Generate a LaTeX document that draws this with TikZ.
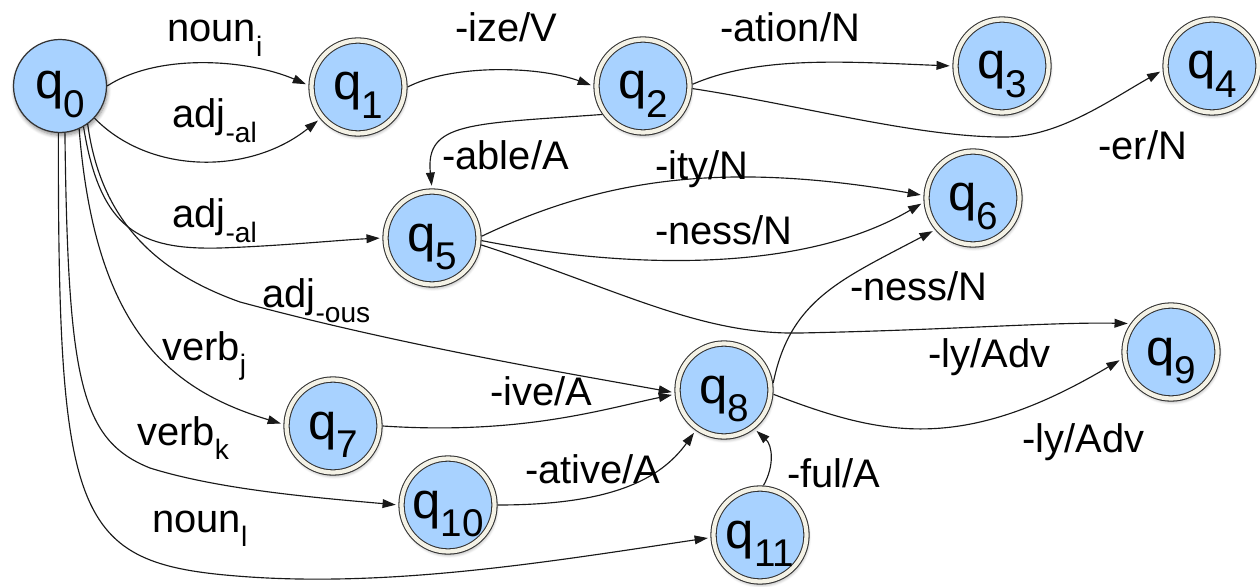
\documentclass[tikz,border=0pt]{standalone}
\usepackage{fontspec}
\setmainfont{Liberation Sans}
\usetikzlibrary{arrows.meta,shadows.blur}
\definecolor{nodeblue}{RGB}{168,210,255}
\definecolor{ringcol}{RGB}{244,242,230}
\newcommand{\qs}[1]{q\raisebox{-10.5pt}{\fontsize{22}{22}\selectfont #1}}
\newcommand{\lsub}[1]{\raisebox{-8pt}{\fontsize{16}{16}\selectfont #1}}
\begin{document}
\begin{tikzpicture}[x=0.02cm,y=-0.02cm,
  statebase/.style={circle, inner sep=0pt, fill=nodeblue, text height=14.8pt, text depth=0pt,
    font=\fontsize{29}{30}\selectfont,
    blur shadow={shadow xshift=0.6pt, shadow yshift=-1.6pt, shadow opacity=45, shadow blur steps=6}},
  initstate/.style={statebase, minimum size=1.86cm, draw=black!80, line width=0.7pt},
  accstate/.style={statebase, minimum size=1.86cm, draw=black!80, line width=0.6pt,
    double=ringcol, double distance=2.4pt, outer sep=1.8pt},
  trans/.style={draw=black!90, line width=0.65pt, -{Triangle[length=7.5pt,width=5pt]}, shorten >=1.5pt},
  elabel/.style={anchor=base west, inner sep=0pt, font=\fontsize{22.7}{24}\selectfont}]
\useasboundingbox (0,0) rectangle (1260,587);

% states
\node[initstate] (q0) at (60,86) {\qs{0}};
\node[accstate] (q1) at (358,87) {\qs{1}};
\node[accstate] (q2) at (643,86) {\qs{2}};
\node[accstate] (q3) at (1002,66) {\qs{3}};
\node[accstate] (q4) at (1212,66) {\qs{4}};
\node[accstate] (q5) at (432,238) {\qs{5}};
\node[accstate] (q6) at (973,198) {\qs{6}};
\node[accstate] (q7) at (333,426) {\qs{7}};
\node[accstate] (q8) at (724,390) {\qs{8}};
\node[accstate] (q9) at (1171,352) {\qs{9}};
\node[accstate] (q10) at (448,505) {\qs{10}};
\node[accstate] (q11) at (760,535) {\qs{11}};

% transitions
\draw[trans] (q0.0) .. controls (160,52) and (250,60) .. (q1.178);
\draw[trans] (q0.-43) .. controls (150,175) and (250,175) .. (q1.220);
\draw[trans] (q1.0) .. controls (450,65) and (535,65) .. (q2.180);
\draw[trans] (q2.2) .. controls (760,55) and (850,62) .. (q3.180);
\draw[trans] (q2.-3) .. controls (800,105) and (920,138) .. (1007,137)
   .. controls (1060,136) and (1110,100) .. (q4.185);
\draw[trans] (q2.215) .. controls (470,124) and (425,122) .. (q5.90);
\draw[trans] (q5.2) .. controls (600,180) and (720,160) .. (q6.177);
\draw[trans] (q5.-3) .. controls (620,268) and (800,275) .. (q6.185);
\draw[trans] (q0.-60) .. controls (100,230) and (140,250) .. (220,248)
   .. controls (280,246) and (340,240) .. (q5.180);
\draw[trans] (q0.-54) .. controls (100,215) and (150,270) .. (240,302)
   .. controls (400,345) and (560,372) .. (q8.183);
\draw[trans] (q0.-66) .. controls (95,330) and (170,390) .. (q7.178);
\draw[trans] (q0.-84) .. controls (68,380) and (80,440) .. (150,468)
   .. controls (220,490) and (320,498) .. (q10.180);
\draw[trans] (q0.-92) .. controls (58,530) and (75,565) .. (250,577)
   .. controls (400,587) and (560,560) .. (q11.183);
\draw[trans] (q7.0) .. controls (520,435) and (600,410) .. (q8.185);
\draw[trans] (q10.0) .. controls (610,505) and (660,480) .. (q8.235);
\draw[trans] (q11.86) .. controls (775,465) and (772,445) .. (q8.-52);
\draw[trans] (q8.8) .. controls (790,300) and (840,280) .. (q6.220);
\draw[trans] (q5.-8) .. controls (620,290) and (700,335) .. (800,333)
   .. controls (950,330) and (1050,322) .. (q9.145);
\draw[trans] (q8.-5) .. controls (880,435) and (960,455) .. (q9.188);

% labels
\node[elabel] (l1) at (167,42) {noun\lsub{i}};
\node[elabel] (l2) at (172,128) {adj\lsub{-al}};
\node[elabel] (l3) at (455,42) {-ize/V};
\node[elabel] (l4) at (720,42) {-ation/N};
\node[elabel] (l5) at (1098,160) {-er/N};
\node[elabel] (l6) at (442,170) {-able/A};
\node[elabel] (l7) at (655,180) {-ity/N};
\node[elabel] (l8) at (655,245) {-ness/N};
\node[elabel] (l9) at (172,228) {adj\lsub{-al}};
\node[elabel] (l10) at (262,308) {adj\lsub{-ous}};
\node[elabel] (l11) at (162,360) {verb\lsub{j}};
\node[elabel] (l12) at (137,445) {verb\lsub{k}};
\node[elabel] (l13) at (152,532) {noun\lsub{l}};
\node[elabel] (l14) at (490,405) {-ive/A};
\node[elabel] (l15) at (525,483) {-ative/A};
\node[elabel] (l16) at (787,487) {-ful/A};
\node[elabel] (l17) at (850,300) {-ness/N};
\node[elabel] (l18) at (928,367) {-ly/Adv};
\node[elabel] (l19) at (1022,452) {-ly/Adv};
\end{tikzpicture}
\end{document}
